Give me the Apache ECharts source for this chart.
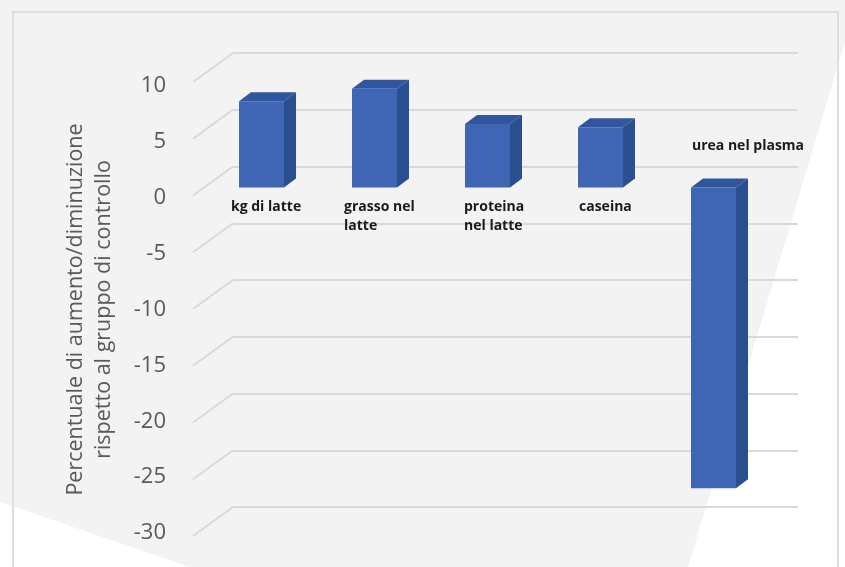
<!DOCTYPE html>
<html>
<head>
<meta charset="utf-8">
<script src="https://cdn.jsdelivr.net/npm/echarts@6/dist/echarts.min.js"></script>
<style>
html,body{margin:0;padding:0;background:#f3f3f3;}
#chart{width:845px;height:567px;}
</style>
</head>
<body>
<div id="chart"></div>
<script>
// ---- data ----
const categories = ['kg di latte', 'grasso nel\nlatte', 'proteina\nnel latte', 'caseina', 'urea nel plasma'];
const values = [7.6, 8.7, 5.6, 5.3, -26.5];
const yTicks = [10, 5, 0, -5, -10, -15, -20, -25, -30];
const yTitle = 'Percentuale di aumento/diminuzione\nrispetto al gruppo di controllo';

// ---- styles ----
const labelShift = [-8, -8, -1, 1, 1];   // label left edge relative to bar front-face left
const FRONT = '#3f66b5', SIDE = '#2b4e8e', TOP = '#30569f';
const GRID = '#d9d9d9';

const chart = echarts.init(document.getElementById('chart'));

const option = {
  backgroundColor: '#f3f3f3',
  animation: false,
  graphic: [
    { type: 'polygon', z: -100, shape: { points: [[850, 25], [850, 567], [688, 567]] }, style: { fill: '#ffffff' } },
    { type: 'polygon', z: -100, shape: { points: [[0, 502], [190, 567], [0, 567]] }, style: { fill: '#ffffff' } },
    { type: 'rect', z: 100, shape: { x: 13, y: 12, width: 825, height: 600 }, style: { fill: 'none', stroke: '#dedede', lineWidth: 2 } }
  ],
  grid: [
    { left: 233, width: 565, top: 53, height: 454 },   // back wall
    { left: 193, width: 565, top: 86, height: 447 },   // front (tick labels)
    { left: 205, width: 565, top: 74, height: 454 }    // bar plane
  ],
  xAxis: [0, 1, 2].map(i => ({
    type: 'category', gridIndex: i, data: categories, show: false
  })),
  yAxis: [
    { type: 'value', gridIndex: 0, min: -30, max: 10, interval: 5,
      axisLabel: { show: false }, axisLine: { show: false }, axisTick: { show: false },
      splitLine: { show: true, lineStyle: { color: GRID, width: 2 } } },
    { type: 'value', gridIndex: 1, min: -30, max: 10, interval: 5,
      axisLine: { show: false }, axisTick: { show: false }, splitLine: { show: false },
      axisLabel: { margin: 27, color: '#595959', fontSize: 22, fontFamily: 'Open Sans' },
      name: yTitle, nameLocation: 'middle', nameRotate: 90, nameGap: 75,
      nameTextStyle: { color: '#595959', fontSize: 21.5, lineHeight: 28, fontFamily: 'Open Sans' } },
    { type: 'value', gridIndex: 2, min: -30, max: 10, interval: 5, show: false,
      splitLine: { show: false } }
  ],
  series: [
    {
      // side-wall diagonal gridlines
      type: 'custom', xAxisIndex: 0, yAxisIndex: 0, z: 1, silent: true,
      data: yTicks.map(t => [0, t]),
      renderItem: function (params, api) {
        const y = api.coord([0, api.value(1)])[1];
        const x = params.coordSys.x;
        return { type: 'line', shape: { x1: x, y1: y, x2: x - 40, y2: y + 29 },
                 style: { stroke: GRID, lineWidth: 2 } };
      }
    },
    {
      type: 'custom', xAxisIndex: 2, yAxisIndex: 2, z: 5,
      data: values.map((v, i) => [i, v]),
      renderItem: function (params, api) {
        const i = api.value(0), v = api.value(1);
        const c0 = api.coord([i, 0]), c1 = api.coord([i, v]);
        const bw = 45, dx = 12, dy = -9;
        const xl = c0[0] - bw / 2, xr = c0[0] + bw / 2;
        const yt = Math.min(c0[1], c1[1]), yb = Math.max(c0[1], c1[1]);
        const txt = categories[i];
        const lx = xl + labelShift[i];
        const ly = v >= 0 ? c0[1] + 10 : c0[1] - 51;
        return {
          type: 'group',
          children: [
            { type: 'polygon', shape: { points: [[xr, yt], [xr + dx, yt + dy], [xr + dx, yb + dy], [xr, yb]] },
              style: { fill: SIDE } },
            { type: 'polygon', shape: { points: [[xl, yt], [xl + dx, yt + dy], [xr + dx, yt + dy], [xr, yt]] },
              style: { fill: TOP } },
            { type: 'rect', shape: { x: xl, y: yt, width: bw, height: yb - yt },
              style: { fill: FRONT } },
            { type: 'text', x: lx, y: ly,
              style: { text: txt, fill: '#1a1a1a', fontSize: 14, fontWeight: 'bold',
                       fontFamily: 'Open Sans', lineHeight: 19, align: 'left', verticalAlign: 'top' } }
          ]
        };
      }
    }
  ]
};
chart.setOption(option);
</script>
</body>
</html>
